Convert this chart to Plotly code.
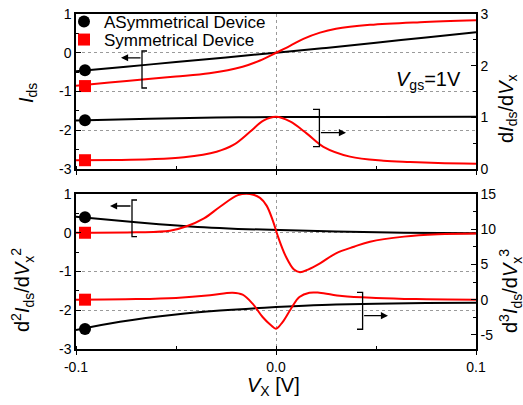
import plotly.graph_objects as go

# ---------------- data ----------------
# top panel: I_ds (left axis) and dI_ds/dV_x (right axis)
v_asym_i = [-0.1, -0.075, -0.05, -0.025, 0.0, 0.025, 0.05, 0.075, 0.1]
i_asym = [-0.48, -0.36, -0.24, -0.12, 0.0, 0.125, 0.26, 0.395, 0.53]

v_sym_i = [-0.1, -0.0833, -0.0667, -0.05, -0.0333, -0.0167, -0.008, 0.0, 0.007,
           0.0137, 0.022, 0.030, 0.047, 0.072, 0.1]
i_sym = [-0.85, -0.77, -0.69, -0.615, -0.53, -0.36, -0.20, 0.0, 0.18,
         0.36, 0.52, 0.62, 0.72, 0.79, 0.84]

v_asym_g = [-0.1, -0.063, -0.03, 0.0, 0.05, 0.1]
g_asym = [0.94, 0.975, 0.995, 1.005, 1.008, 1.01]

v_sym_g = [-0.1, -0.08, -0.063, -0.046, -0.0297, -0.0213, -0.013, -0.0063, 0.0,
           0.007, 0.0153, 0.0237, 0.037, 0.0537, 0.067, 0.081, 0.1]
g_sym = [0.17, 0.175, 0.188, 0.227, 0.335, 0.465, 0.72, 0.935, 1.01,
         0.92, 0.69, 0.43, 0.24, 0.16, 0.135, 0.115, 0.10]

# bottom panel: d2I/dV2 (left axis) and d3I/dV3 (right axis)
v_asym_d2 = [-0.1, -0.07, -0.053, -0.036, -0.019, 0.002, 0.03, 0.064, 0.1]
d2_asym = [0.41, 0.27, 0.20, 0.14, 0.10, 0.07, 0.03, 0.0, -0.01]

v_sym_d2 = [-0.1, -0.07, -0.053, -0.045, -0.036, -0.028, -0.019, -0.013, -0.008,
            -0.0047, -0.0015, 0.001, 0.005, 0.009, 0.012, 0.016, 0.022, 0.030,
            0.039, 0.047, 0.064, 0.081, 0.1]
d2_sym = [0.0, 0.01, 0.05, 0.16, 0.37, 0.67, 0.97, 1.0, 0.90,
          0.70, 0.30, -0.10, -0.62, -0.95, -1.02, -0.95, -0.79, -0.53,
          -0.36, -0.23, -0.10, -0.04, -0.02]

v_asym_d3 = [-0.1, -0.078, -0.05, -0.028, 0.0, 0.014, 0.03, 0.05, 0.075, 0.1]
d3_asym = [-4.3, -3.13, -2.1, -1.55, -1.04, -0.85, -0.68, -0.57, -0.48, -0.42]

v_sym_d3 = [-0.1, -0.07, -0.05, -0.033, -0.0217, -0.0167, -0.0117, -0.0067, -0.0025,
            0.0, 0.0033, 0.0075, 0.0117, 0.0167, 0.0217, 0.033, 0.05, 0.07, 0.1]
d3_sym = [0.0, 0.08, 0.25, 0.62, 0.99, 0.71, -0.57, -2.46, -3.64,
          -4.12, -3.17, -1.28, 0.38, 0.99, 0.99, 0.52, 0.24, 0.08, 0.0]

# symbol markers near the left end of each curve
mark_v = -0.0955
mark_top_asym = [-0.45, 0.943]    # I_ds, dI/dV
mark_top_sym = [-0.86, 0.17]
mark_bot_asym = [0.40, -4.16]     # d2I, d3I
mark_bot_sym = [0.0, 0.0]

x_ticks = [-0.1, 0.0, 0.1]
x_labels = ["-0.1", "0.0", "0.1"]
left_ticks = [-3, -2, -1, 0, 1]
left_labels = ["-3", "-2", "-1", "0", "1"]
g_ticks = [0, 1, 2, 3]
d3_ticks = [-5, 0, 5, 10, 15]
d3_labels = ["-5", "0", "5", "10", "15"]

names = ["ASymmetrical Device", "Symmetrical Device"]

# ---------------- figure ----------------
FONT = "Arial, Liberation Sans, sans-serif"
BLACK = "#000000"
RED = "#ff0000"
LW = 2

fig = go.Figure()


def curve(v, y, color, xa, ya):
    fig.add_trace(go.Scatter(x=v, y=y, mode="lines", xaxis=xa, yaxis=ya,
                             line=dict(color=color, width=LW, shape="spline", smoothing=1.0),
                             showlegend=False, hoverinfo="skip"))


def marker(y, color, symbol, xa, ya, name=None, legend="legend"):
    fig.add_trace(go.Scatter(x=[mark_v], y=[y], mode="markers", xaxis=xa, yaxis=ya,
                             marker=dict(color=color, symbol=symbol, size=12),
                             name=name, showlegend=name is not None, legend=legend,
                             hoverinfo="skip"))


# top panel
curve(v_asym_i, i_asym, BLACK, "x", "y")
curve(v_asym_g, g_asym, BLACK, "x", "y2")
curve(v_sym_i, i_sym, RED, "x", "y")
curve(v_sym_g, g_sym, RED, "x", "y2")
marker(mark_top_asym[0], BLACK, "circle", "x", "y", names[0], "legend")
marker(mark_top_sym[0], RED, "square", "x", "y", names[1], "legend2")
marker(mark_top_asym[1], BLACK, "circle", "x", "y2")
marker(mark_top_sym[1], RED, "square", "x", "y2")

# bottom panel
curve(v_asym_d2, d2_asym, BLACK, "x2", "y3")
curve(v_asym_d3, d3_asym, BLACK, "x2", "y4")
curve(v_sym_d2, d2_sym, RED, "x2", "y3")
curve(v_sym_d3, d3_sym, RED, "x2", "y4")
marker(mark_bot_asym[0], BLACK, "circle", "x2", "y3")
marker(mark_bot_sym[0], RED, "square", "x2", "y3")
marker(mark_bot_asym[1], BLACK, "circle", "x2", "y4")
marker(mark_bot_sym[1], RED, "square", "x2", "y4")

tickfont = dict(family=FONT, size=14, color=BLACK)
grid = dict(showgrid=True, gridcolor="#9a9a9a", griddash="dot", gridwidth=1)
line = dict(showline=True, linecolor=BLACK, linewidth=1.5)

xcommon = dict(range=[-0.1, 0.1], tickmode="array", tickvals=x_ticks, ticktext=x_labels,
               ticks="outside", ticklen=4, tickcolor=BLACK, mirror=True, zeroline=False,
               minor=dict(ticks="inside", dtick=0.05, tick0=0, ticklen=3, tickcolor=BLACK, showgrid=False),
               tickfont=tickfont, **grid, **line)
ycommon_left = dict(range=[-3, 1], tickmode="array", tickvals=left_ticks, ticktext=left_labels,
                    ticks="inside", ticklen=5, tickcolor=BLACK, zeroline=False,
                    minor=dict(ticks="inside", dtick=0.5, tick0=0, ticklen=3, tickcolor=BLACK, showgrid=False),
                    tickfont=tickfont, **grid, **line)

TOP_LO = 180 / 335
BOT_HI = 155 / 335


def px_x(px):
    return (px - 76) / 400


def px_y(py):
    return (349 - py) / 335


legend_style = dict(xanchor="left", yanchor="top", bgcolor="rgba(0,0,0,0)", borderwidth=0,
                    font=dict(family=FONT, size=17, color=BLACK))

fig.update_layout(
    width=523, height=405,
    margin=dict(l=76, r=47, t=14, b=56, autoexpand=False),
    paper_bgcolor="white", plot_bgcolor="white",
    font=dict(family=FONT, size=14, color=BLACK),
    xaxis=dict(domain=[0, 1], anchor="y", showticklabels=False, **xcommon),
    yaxis=dict(domain=[TOP_LO, 1], anchor="x", **ycommon_left),
    yaxis2=dict(overlaying="y", side="right", anchor="x", range=[0, 3],
                tickmode="array", tickvals=g_ticks, ticks="inside", ticklen=5, tickcolor=BLACK,
                minor=dict(ticks="inside", dtick=0.5, tick0=0, ticklen=3, tickcolor=BLACK),
                showgrid=False, zeroline=False, tickfont=tickfont, **line),
    xaxis2=dict(domain=[0, 1], anchor="y3", matches="x", **xcommon),
    yaxis3=dict(domain=[0, BOT_HI], anchor="x2", **ycommon_left),
    yaxis4=dict(overlaying="y3", side="right", anchor="x2", range=[-7, 15],
                tickmode="array", tickvals=d3_ticks, ticktext=d3_labels,
                ticks="inside", ticklen=5, tickcolor=BLACK,
                minor=dict(ticks="inside", dtick=2.5, tick0=0, ticklen=3, tickcolor=BLACK),
                showgrid=False, zeroline=False, tickfont=tickfont, **line),
    legend=dict(x=px_x(64), y=px_y(4), **legend_style),
    legend2=dict(x=px_x(64), y=px_y(22), **legend_style),
    showlegend=True,
)

titles = [
    ("<i>I</i><sub>ds</sub>", px_x(27), px_y(93), -90),
    ("d<i>I</i><sub>ds</sub>/d<i>V</i><sub>x</sub>", px_x(507), px_y(108), -90),
    ("d<sup>2</sup><i>I</i><sub>ds</sub>/d<i>V</i><sub>x</sub><sup>2</sup>", px_x(22), px_y(290), -90),
    ("d<sup>3</sup><i>I</i><sub>ds</sub>/d<i>V</i><sub>x</sub><sup>3</sup>", px_x(510), px_y(291), -90),
    ("<i>V</i><sub>X</sub> [V]", px_x(273), px_y(386), 0),
    ("<i>V</i><sub>gs</sub>=1V", px_x(428), px_y(80), 0),
]
for text, x, y, ang in titles:
    fig.add_annotation(text=text, x=x, y=y, xref="paper", yref="paper",
                       xanchor="center", yanchor="middle", textangle=ang, showarrow=False,
                       font=dict(family=FONT, size=20, color=BLACK))

# brackets with arrows indicating which axis each pair of curves uses
brackets = [
    # (xref, yref, x_bar, x_serif, y_top, y_bottom, y_arrow, x_arrow_tip)
    ("x", "y", -0.067, -0.0645, 0.045, -0.91, -0.13, -0.0775),
    ("x", "y2", 0.0217, 0.0185, 1.155, 0.432, 0.703, 0.035),
    ("x2", "y3", -0.072, -0.0695, 0.845, -0.10, 0.69, -0.083),
    ("x2", "y4", 0.0433, 0.0405, 1.05, -4.2, -2.27, 0.056),
]
for xr, yr, xb, xs, yt, yb, ya, xt in brackets:
    fig.add_shape(type="path", xref=xr, yref=yr,
                  path=f"M {xs},{yt} L {xb},{yt} L {xb},{yb} L {xs},{yb}",
                  line=dict(color=BLACK, width=1.3))
    fig.add_annotation(x=xt, y=ya, ax=xb, ay=ya, xref=xr, yref=yr, axref=xr, ayref=yr,
                       text="", showarrow=True, arrowhead=2, arrowsize=1.1,
                       arrowwidth=1.3, arrowcolor=BLACK)

fig.write_html("out.html")
